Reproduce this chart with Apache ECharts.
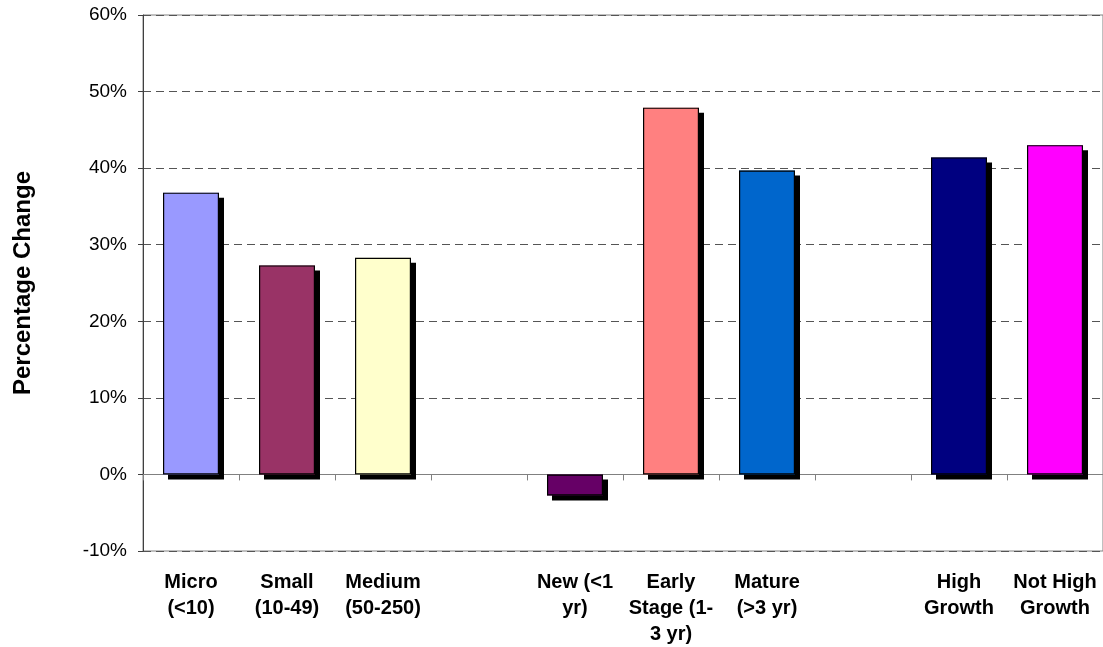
<!DOCTYPE html>
<html>
<head>
<meta charset="utf-8">
<script src="https://cdn.jsdelivr.net/npm/echarts@6/dist/echarts.min.js"></script>
<style>
html,body{margin:0;padding:0;background:#fff;}
#chart{width:1103px;height:647px;}
</style>
</head>
<body>
<div id="chart"></div>
<script>
const categories = ["Micro\n(<10)", "Small\n(10-49)", "Medium\n(50-250)", "", "New (<1\nyr)", "Early\nStage (1-\n3 yr)", "Mature\n(>3 yr)", "", "High\nGrowth", "Not High\nGrowth"];
const values = [36.8, 27.3, 28.3, null, -2.75, 47.9, 39.7, null, 41.4, 43.0];
const barColors = ["#9999FF", "#993366", "#FFFFCC", "#FFFFFF", "#660066", "#FF8080", "#0066CC", "#FFFFFF", "#000080", "#FF00FF"];
const yTicks = { min: -10, max: 60, interval: 10 };
const yTitle = "Percentage Change";

const font = "'Liberation Sans', Arial, sans-serif";
const chart = echarts.init(document.getElementById('chart'), null, { renderer: 'canvas' });

const fillData = values.map((v, i) => v === null ? '-' : {
  value: v,
  itemStyle: { color: barColors[i] }
});
const outlineData = values.map(v => v === null ? '-' : v);

chart.setOption({
  animation: false,
  backgroundColor: '#fff',
  grid: {
    left: 143, top: 15, width: 963, height: 536,
    show: true, borderColor: '#808080', borderWidth: 1, backgroundColor: 'transparent'
  },
  xAxis: [
    {
      type: 'category', data: categories, position: 'bottom',
      axisLine: { show: false, onZero: false },
      axisTick: { show: false },
      axisLabel: {
        color: '#000', fontFamily: font, fontWeight: 'bold', fontSize: 20,
        lineHeight: 26, margin: 18, interval: 0
      }
    },
    {
      type: 'category', data: categories,
      axisLine: { show: true, onZero: true, lineStyle: { color: '#808080', width: 1 } },
      axisTick: { show: true, inside: true, length: 6, lineStyle: { color: '#808080' } },
      axisLabel: { show: false }
    }
  ],
  yAxis: {
    type: 'value', min: yTicks.min, max: yTicks.max, interval: yTicks.interval,
    name: yTitle, nameLocation: 'middle', nameGap: 108,
    nameTextStyle: { fontFamily: font, fontWeight: 'bold', fontSize: 24, color: '#000' },
    axisLine: { show: true, lineStyle: { color: '#404040', width: 1 } },
    axisTick: { show: true, length: 5, lineStyle: { color: '#404040' } },
    axisLabel: { formatter: '{value}%', color: '#000', fontFamily: font, fontSize: 19, margin: 16 },
    splitLine: { show: true, lineStyle: { color: '#555', type: [8, 5], width: 1 } }
  },
  series: [
    {
      type: 'bar', xAxisIndex: 0, data: fillData, barWidth: 56,
      itemStyle: {
        borderWidth: 0,
        shadowColor: '#000', shadowOffsetX: 5, shadowOffsetY: 5, shadowBlur: 0
      }
    },
    {
      type: 'bar', xAxisIndex: 0, data: outlineData, barWidth: 56, barGap: '-100%',
      silent: true,
      itemStyle: { color: 'rgba(0,0,0,0)', borderColor: '#000', borderWidth: 1.2 }
    }
  ]
});
</script>
</body>
</html>
